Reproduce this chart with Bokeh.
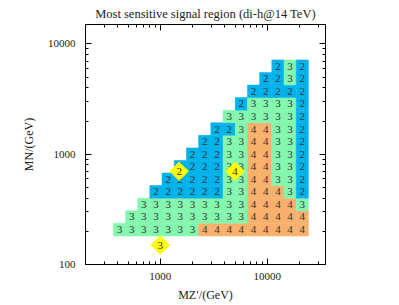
import math
from bokeh.plotting import figure
from bokeh.models import ColumnDataSource, LogAxis, FixedTicker, Range1d
from bokeh.core.properties import value
from bokeh.embed import file_html
from bokeh.resources import INLINE

# M_Z' grid (GeV), columns
mz = [415, 540, 700, 910, 1185, 1540, 2000, 2600, 3385, 4400, 5720, 7435, 9665, 12565, 16335, 21235]
# M_N grid (GeV), rows
mn = [207, 270, 350, 455, 592, 770, 1000, 1300, 1692, 2200, 2860, 3717, 4832, 6282]
# most sensitive signal region; row j covers columns j..15
regions = [
    [3, 3, 3, 3, 3, 3, 3, 4, 4, 4, 4, 4, 4, 4, 4, 4],
    [3, 3, 3, 3, 3, 3, 3, 3, 3, 3, 4, 4, 4, 4, 4],
    [3, 3, 3, 3, 3, 3, 3, 3, 3, 4, 4, 4, 4, 3],
    [2, 2, 2, 2, 2, 2, 3, 3, 4, 4, 4, 3, 2],
    [2, 2, 2, 2, 2, 3, 3, 4, 4, 3, 3, 2],
    [2, 2, 2, 2, 3, 3, 4, 4, 3, 3, 2],
    [2, 2, 2, 3, 3, 4, 4, 3, 3, 2],
    [2, 2, 3, 3, 4, 4, 3, 3, 2],
    [2, 2, 3, 4, 4, 3, 3, 2],
    [3, 3, 3, 3, 3, 3, 2],
    [2, 3, 3, 3, 3, 2],
    [2, 2, 2, 2, 2],
    [2, 2, 3, 2],
    [2, 3, 2],
]
# benchmark points
bench_mz = [1000, 1500, 5000]
bench_mn = [150, 700, 700]
bench_sr = ["3", "2", "4"]

x_major = [1000, 10000]
y_major = [100, 1000, 10000]
title_text = "Most sensitive signal region (di-h@14 TeV)"
x_label = "MZ\u2032/(GeV)"
y_label = "MN/(GeV)"

colors = {2: "#00b2ea", 3: "#84f7ae", 4: "#f8b06c"}


def edges(vals):
    e = []
    for i in range(len(vals) + 1):
        if i == 0:
            e.append(vals[0] / math.sqrt(vals[1] / vals[0]))
        elif i == len(vals):
            e.append(vals[-1] * math.sqrt(vals[-1] / vals[-2]))
        else:
            e.append(math.sqrt(vals[i - 1] * vals[i]))
    return e


ex = edges(mz)
ey = edges(mn)

cx, cy, l, r, b, t, lab, col = [], [], [], [], [], [], [], []
for j, row in enumerate(regions):
    for k, v in enumerate(row):
        i = j + k
        cx.append(mz[i]); cy.append(mn[j])
        l.append(ex[i]); r.append(ex[i + 1])
        b.append(ey[j]); t.append(ey[j + 1])
        lab.append(str(v)); col.append(colors[v])

src = ColumnDataSource(dict(x=cx, y=cy, left=l, right=r, bottom=b, top=t, lab=lab, col=col))
bsrc = ColumnDataSource(dict(x=bench_mz, y=bench_mn, lab=bench_sr))

serif = "Liberation Serif"

p = figure(width=399, height=305, x_axis_type="log", y_axis_type="log",
           x_range=Range1d(200, 35000), y_range=Range1d(100, 15000),
           output_backend="svg", toolbar_location=None,
           min_border_left=85, min_border_right=74, min_border_top=24, min_border_bottom=41)
p.grid.visible = False
p.outline_line_color = "black"
p.outline_line_width = 1
p.background_fill_color = "white"
p.border_fill_color = "white"

p.title.text = title_text
p.title.align = "center"
p.title.text_font = serif
p.title.text_font_style = "normal"
p.title.text_font_size = "12.5px"
p.title.text_color = "#222222"
p.title.standoff = 8

p.quad(left="left", right="right", bottom="bottom", top="top", source=src,
       fill_color="col", line_color="col", line_width=0.5)
p.text(x="x", y="y", text="lab", source=src, text_align="center", text_baseline="middle",
       text_font=value(serif), text_font_size="11px", text_color="#333333")
p.scatter(x="x", y="y", source=bsrc, marker="square", angle=math.pi / 4, size=13,
          fill_color="#ffff00", line_color="#ffff00")
p.text(x="x", y="y", text="lab", source=bsrc, text_align="center", text_baseline="middle",
       text_font=value(serif), text_font_size="11px", text_color="#333333")

x_minor = [m * 10 ** k for k in (2, 3, 4) for m in range(2, 10)]
y_minor = [m * 10 ** k for k in (2, 3, 4) for m in range(2, 10)]

xt = FixedTicker(ticks=x_major, minor_ticks=x_minor)
yt = FixedTicker(ticks=y_major, minor_ticks=y_minor)


def style(ax, standoff):
    ax.major_tick_in = 6
    ax.major_tick_out = 0
    ax.minor_tick_in = 3
    ax.minor_tick_out = 0
    ax.axis_line_color = "black"
    ax.major_tick_line_color = "black"
    ax.minor_tick_line_color = "black"
    ax.major_label_text_font = serif
    ax.major_label_text_font_size = "11px"
    ax.major_label_text_color = "#222222"
    ax.major_label_standoff = standoff
    ax.axis_label_text_font = serif
    ax.axis_label_text_font_style = "normal"
    ax.axis_label_text_font_size = "12px"
    ax.axis_label_text_color = "#222222"


p.xaxis.ticker = xt
p.yaxis.ticker = yt
p.xaxis.major_label_overrides = {v: str(v) for v in x_major}
p.yaxis.major_label_overrides = {v: str(v) for v in y_major}
style(p.xaxis[0], 8)
style(p.yaxis[0], 10)
p.xaxis.axis_label = x_label
p.yaxis.axis_label = y_label
p.xaxis.axis_label_standoff = 5
p.yaxis.axis_label_standoff = 9

top_ax = LogAxis(ticker=xt, major_label_overrides={v: "" for v in x_major})
right_ax = LogAxis(ticker=yt, major_label_overrides={v: "" for v in y_major})
style(top_ax, 0)
style(right_ax, 0)
p.add_layout(top_ax, "above")
p.add_layout(right_ax, "right")

open("out.html", "w").write(file_html(p, INLINE))
